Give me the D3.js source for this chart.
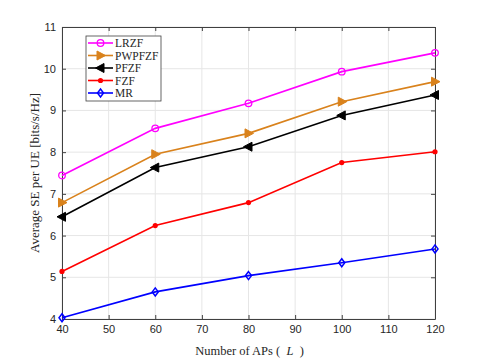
<!DOCTYPE html>
<html>
<head>
<meta charset="utf-8">
<script src="https://cdn.jsdelivr.net/npm/d3@7"></script>
<style>
  body { margin: 0; background: #fff; }
  .tick text { font-family: "Liberation Sans", Arial, sans-serif; font-size: 11px; fill: #262626; }
  .lbl { font-family: "Liberation Serif", "DejaVu Serif", serif; font-size: 12.5px; fill: #262626; }
</style>
</head>
<body>
<script>
// data
const apCounts = [40, 60, 80, 100, 120];
const lrzf   = [7.44, 8.57, 9.17, 9.93, 10.38];
const pwpfzf = [6.79, 7.95, 8.45, 9.21, 9.69];
const pfzf   = [6.45, 7.63, 8.13, 8.88, 9.37];
const fzf    = [5.14, 6.24, 6.79, 7.75, 8.01];
const mr     = [4.03, 4.65, 5.04, 5.35, 5.68];
const seriesNames = ["LRZF", "PWPFZF", "PFZF", "FZF", "MR"];
const xTicks = [40, 50, 60, 70, 80, 90, 100, 110, 120];
const yTicks = [4, 5, 6, 7, 8, 9, 10, 11];

const series = [
  {name: seriesNames[0], values: lrzf,   color: "#ff00ff", marker: "circle"},
  {name: seriesNames[1], values: pwpfzf, color: "#d9821c", marker: "triRight"},
  {name: seriesNames[2], values: pfzf,   color: "#000000", marker: "triLeft"},
  {name: seriesNames[3], values: fzf,    color: "#ff0000", marker: "dot"},
  {name: seriesNames[4], values: mr,     color: "#0000ff", marker: "diamond"}
];

let margin = {top: 27, left: 62, bottom: 41, right: 45};
let width = 480 - margin.left - margin.right,
    height = 360 - margin.top - margin.bottom;

const svg = d3.select("body").append("svg")
  .attr("width", 480).attr("height", 360)
  .append("g")
  .attr("transform", `translate(${margin.left}, ${margin.top})`);

const x = d3.scaleLinear().domain([40, 120]).range([0, width]);
const y = d3.scaleLinear().domain([4, 11]).range([height, 0]);

// grid
svg.append("g").selectAll("line").data(xTicks).enter().append("line")
  .attr("x1", d => x(d)).attr("x2", d => x(d)).attr("y1", 0).attr("y2", height)
  .attr("stroke", "#e6e6e6").attr("stroke-width", 1);
svg.append("g").selectAll("line").data(yTicks).enter().append("line")
  .attr("y1", d => y(d)).attr("y2", d => y(d)).attr("x1", 0).attr("x2", width)
  .attr("stroke", "#e6e6e6").attr("stroke-width", 1);

// axes (ticks inward, box on)
function styleAxis(g) {
  g.select(".domain").attr("stroke", "#404040").attr("stroke-width", 1);
  g.selectAll(".tick line").attr("stroke", "#404040");
}
svg.append("g").attr("transform", `translate(0, ${height})`)
  .call(d3.axisBottom(x).tickValues(xTicks).tickSize(-4).tickPadding(6).tickSizeOuter(0))
  .call(styleAxis);
svg.append("g")
  .call(d3.axisLeft(y).tickValues(yTicks).tickFormat(d3.format("d")).tickSize(-4).tickPadding(6).tickSizeOuter(0))
  .call(styleAxis);
svg.append("g")
  .call(d3.axisTop(x).tickValues(xTicks).tickSize(-4).tickFormat("").tickSizeOuter(0))
  .call(styleAxis);
svg.append("g").attr("transform", `translate(${width}, 0)`)
  .call(d3.axisRight(y).tickValues(yTicks).tickSize(-4).tickFormat("").tickSizeOuter(0))
  .call(styleAxis);

svg.selectAll(".tick text").attr("font-family", null).attr("font-size", null);

// markers
function drawMarker(g, type, color, cx, cy) {
  if (type === "circle") {
    g.append("circle").attr("cx", cx).attr("cy", cy).attr("r", 3.3)
      .attr("fill", "none").attr("stroke", color).attr("stroke-width", 1.3);
  } else if (type === "dot") {
    g.append("circle").attr("cx", cx).attr("cy", cy).attr("r", 2.6).attr("fill", color);
  } else if (type === "triRight") {
    g.append("path").attr("d", `M${cx - 3.5},${cy - 4.5}L${cx + 5},${cy}L${cx - 3.5},${cy + 4.5}Z`)
      .attr("fill", color).attr("stroke", color);
  } else if (type === "triLeft") {
    g.append("path").attr("d", `M${cx + 3.5},${cy - 4.5}L${cx - 5},${cy}L${cx + 3.5},${cy + 4.5}Z`)
      .attr("fill", color).attr("stroke", color);
  } else if (type === "diamond") {
    g.append("path").attr("d", `M${cx},${cy - 4}L${cx + 3},${cy}L${cx},${cy + 4}L${cx - 3},${cy}Z`)
      .attr("fill", "none").attr("stroke", color).attr("stroke-width", 1.5);
  }
}

const line = d3.line().x((d, i) => x(apCounts[i])).y(d => y(d));

series.forEach(s => {
  const g = svg.append("g");
  g.append("path").datum(s.values).attr("d", line)
    .attr("fill", "none").attr("stroke", s.color).attr("stroke-width", 1.6);
  s.values.forEach((v, i) => drawMarker(g, s.marker, s.color, x(apCounts[i]), y(v)));
});

// legend
const legend = svg.append("g").attr("transform", `translate(${86 - margin.left}, ${36 - margin.top})`);
legend.append("rect").attr("width", 75).attr("height", 65)
  .attr("fill", "#fff").attr("stroke", "#404040").attr("stroke-width", 0.8);
series.forEach((s, i) => {
  const ly = 7 + i * 12.5;
  legend.append("line").attr("x1", 2).attr("x2", 27).attr("y1", ly).attr("y2", ly)
    .attr("stroke", s.color).attr("stroke-width", 1.6);
  drawMarker(legend, s.marker, s.color, 14.5, ly);
  legend.append("text").attr("class", "lbl").attr("x", 29).attr("y", ly + 4)
    .style("font-size", "11.5px").text(s.name);
});

// axis labels
svg.append("text").attr("class", "lbl")
  .attr("x", width / 2 + 1).attr("y", height + 36).attr("text-anchor", "middle")
  .attr("xml:space", "preserve")
  .html("Number of APs (  <tspan font-style='italic'>L</tspan>  )");
svg.append("text").attr("class", "lbl")
  .attr("transform", `translate(-23, ${height / 2}) rotate(-90)`)
  .attr("text-anchor", "middle")
  .style("font-size", "13px")
  .text("Average SE per UE [bits/s/Hz]");
</script>
</body>
</html>
